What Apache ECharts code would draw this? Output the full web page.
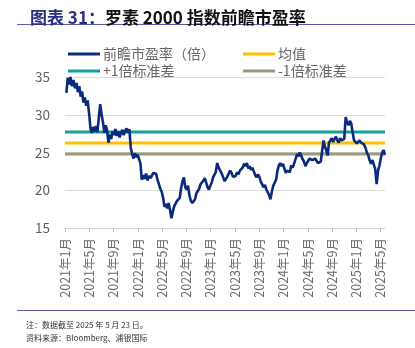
<!DOCTYPE html>
<html>
<head>
<meta charset="utf-8">
<script src="https://cdn.jsdelivr.net/npm/echarts@6/dist/echarts.min.js"></script>
<style>
  html, body { margin: 0; padding: 0; background: #fff; }
  #chart { width: 415px; height: 348px; }
</style>
</head>
<body>
<div id="chart"></div>
<script>
// Russell 2000 forward P/E, weekly (Friday) readings from 2021-01-08 to 2025-05-23
const firstFriday = [2021, 0, 8];
const forwardPE = [
  // 2021
  32.9, 34.9, 34.0, 35.0,
  33.8, 34.6, 33.5, 34.2,
  33.0, 33.8, 32.4, 33.1,
  31.6, 32.3, 31.2, 31.9, 30.2,
  28.2, 27.6, 28.4, 27.8,
  28.5, 27.7, 29.6, 31.4,
  30.0, 29.0, 27.6, 28.6, 27.9,
  26.3, 27.4, 26.8, 27.8,
  27.3, 28.1, 27.2, 27.8,
  27.0, 27.6, 28.0, 27.3, 27.9,
  28.2, 27.6, 28.1, 25.6,
  24.8, 24.2, 24.9, 24.4, 24.7,
  // 2022
  24.6, 23.6, 21.4, 22.0,
  21.5, 22.2, 21.3, 21.9,
  21.6, 21.8, 22.3, 22.1,
  22.2, 21.4, 20.8, 20.2, 19.8,
  19.0, 17.8, 18.2, 17.6,
  18.3, 17.4, 16.3, 17.2,
  17.9, 18.1, 18.6, 18.4, 19.0,
  20.3, 21.2, 21.7, 20.4,
  20.1, 20.6, 19.3, 18.6, 18.3,
  18.4, 18.8, 19.6, 19.4,
  20.2, 20.8, 21.0, 21.3,
  21.6, 21.0, 20.4, 20.1, 20.6,
  // 2023
  21.0, 21.7, 21.5, 22.4,
  23.6, 23.0, 22.6, 22.2,
  22.4, 21.2, 21.5, 21.8, 22.2,
  22.6, 22.3, 21.8, 22.0,
  21.9, 22.4, 22.1, 22.6,
  22.6, 23.0, 23.5, 23.2, 23.6,
  22.9, 23.2, 22.7, 23.0,
  22.5, 22.0, 21.7, 22.1,
  21.8, 21.2, 20.8, 20.4, 20.7,
  20.1, 20.3, 19.4, 18.8,
  19.8, 20.6, 21.0, 21.4,
  22.6, 23.3, 23.6, 23.2, 23.5,
  // 2024
  22.9, 22.3, 22.6, 22.8,
  22.4, 23.3, 23.0, 23.6,
  24.2, 24.8, 24.5, 25.0, 24.6,
  24.1, 23.8, 23.2, 23.6,
  23.5, 24.2, 24.4, 24.0, 23.8,
  24.2, 23.9, 23.6, 23.4,
  23.8, 25.2, 26.6, 25.8,
  25.3, 24.6, 26.3, 26.6, 26.9,
  26.4, 26.8, 27.1, 26.6,
  26.3, 26.9, 26.6, 26.4,
  26.8, 29.7, 29.0, 28.6, 29.2,
  28.8, 27.6, 26.6, 26.8,
  // 2025
  26.2, 26.0, 26.6, 26.3, 26.4,
  26.1, 25.7, 25.0, 24.6,
  23.9, 23.5, 24.0, 23.4,
  22.8, 20.8, 22.6, 23.3,
  24.3, 25.0, 25.3, 24.7
];

// Reference levels
const meanPE = 26.25;
const plusOneSd = 27.7;
const minusOneSd = 24.8;

// Axis ticks, in months since 2021-01
const tickMonths = [0, 4, 8, 12, 16, 20, 24, 28, 32, 36, 40, 44, 48, 52];
const tickLabels = [
  '2021年1月', '2021年5月', '2021年9月', '2022年1月', '2022年5月',
  '2022年9月', '2023年1月', '2023年5月', '2023年9月', '2024年1月',
  '2024年5月', '2024年9月', '2025年1月', '2025年5月'
];
const yTicks = { min: 15, max: 35, step: 5 };

const seriesNames = ['前瞻市盈率（倍）', '均值', '+1倍标准差', '-1倍标准差'];

// Convert a date to a fractional month index counted from January 2021
function monthIndex(d) {
  const y = d.getUTCFullYear(), m = d.getUTCMonth();
  const days = new Date(Date.UTC(y, m + 1, 0)).getUTCDate();
  return (y - 2021) * 12 + m + (d.getUTCDate() - 1) / days;
}

const t0 = Date.UTC(firstFriday[0], firstFriday[1], firstFriday[2]);
const peData = forwardPE.map((v, i) => [monthIndex(new Date(t0 + i * 7 * 86400000)), v]);
const xMin = 0;
const xMax = peData[peData.length - 1][0];
const flat = v => [[xMin, v], [xMax, v]];

const FONT = '"Noto Sans CJK SC", "Noto Sans", sans-serif';
const GREY = '#5f5f5f';
const COLORS = { pe: '#0a2a7c', mean: '#ffc000', plus: '#14a0a0', minus: '#9a9a7c' };

function legendAt(name, left, top) {
  return {
    data: [name], left: left, top: top, icon: 'rect',
    itemWidth: 32, itemHeight: 3, itemGap: 4,
    textStyle: { color: '#666', fontSize: 14, fontFamily: FONT, padding: [0, 0, 0, -2] }
  };
}

const chart = echarts.init(document.getElementById('chart'), null, { renderer: 'canvas' });
chart.setOption({
  animation: false,
  backgroundColor: '#fff',
  textStyle: { fontFamily: FONT },
  title: {
    left: 25, top: 4,
    text: '{a|图表 31：}{b|罗素 2000 指数前瞻市盈率}',
    textStyle: {
      rich: {
        a: { color: '#2b2f7c', fontSize: 17, fontWeight: 'bold', fontFamily: FONT },
        b: { color: '#111', fontSize: 17, fontWeight: 'bold', fontFamily: FONT }
      }
    }
  },
  legend: [
    legendAt(seriesNames[0], 63, 42),
    legendAt(seriesNames[1], 238, 42),
    legendAt(seriesNames[2], 63, 59),
    legendAt(seriesNames[3], 238, 59)
  ],
  grid: { left: 65, right: 30, top: 77, bottom: 120, containLabel: false },
  xAxis: {
    type: 'value', min: xMin, max: xMax,
    splitLine: { show: false },
    axisLine: { show: true, lineStyle: { color: '#d4d4d4', width: 1 } },
    axisTick: { show: true, length: 4, lineStyle: { color: '#bfbfbf' }, customValues: tickMonths },
    axisLabel: {
      rotate: 90, margin: 10, color: '#6a6a6a', fontSize: 12.5, fontFamily: FONT,
      customValues: tickMonths,
      formatter: v => tickLabels[tickMonths.indexOf(Math.round(v))] || ''
    }
  },
  yAxis: {
    type: 'value', min: yTicks.min, max: yTicks.max, interval: yTicks.step,
    axisLine: { show: false }, axisTick: { show: false },
    splitLine: { show: true, lineStyle: { color: '#dcdcdc', width: 1 } },
    axisLabel: { color: GREY, fontSize: 13.5, margin: 15, fontFamily: FONT }
  },
  series: [
    {
      name: seriesNames[0], type: 'line', data: peData, showSymbol: false, z: 5,
      color: COLORS.pe, lineStyle: { color: COLORS.pe, width: 2.6 }
    },
    {
      name: seriesNames[1], type: 'line', data: flat(meanPE), symbol: 'none', z: 3,
      color: COLORS.mean, lineStyle: { color: COLORS.mean, width: 3 }
    },
    {
      name: seriesNames[2], type: 'line', data: flat(plusOneSd), symbol: 'none', z: 3,
      color: COLORS.plus, lineStyle: { color: COLORS.plus, width: 3 }
    },
    {
      name: seriesNames[3], type: 'line', data: flat(minusOneSd), symbol: 'none', z: 3,
      color: COLORS.minus, lineStyle: { color: COLORS.minus, width: 3 }
    }
  ],
  graphic: [
    { type: 'line', shape: { x1: 17, y1: 24.5, x2: 415, y2: 24.5 }, style: { stroke: '#5a5ca8', lineWidth: 1 } },
    { type: 'line', shape: { x1: 17, y1: 310.5, x2: 415, y2: 310.5 }, style: { stroke: '#5a5ca8', lineWidth: 1 } },
    { type: 'text', left: 26, top: 321, style: { text: '注：数据截至 2025 年 5 月 23 日。', fill: '#333', fontSize: 8, fontFamily: FONT } },
    { type: 'text', left: 26, top: 334, style: { text: '资料来源：Bloomberg、浦银国际', fill: '#333', fontSize: 8, fontFamily: FONT } }
  ]
});
</script>
</body>
</html>
